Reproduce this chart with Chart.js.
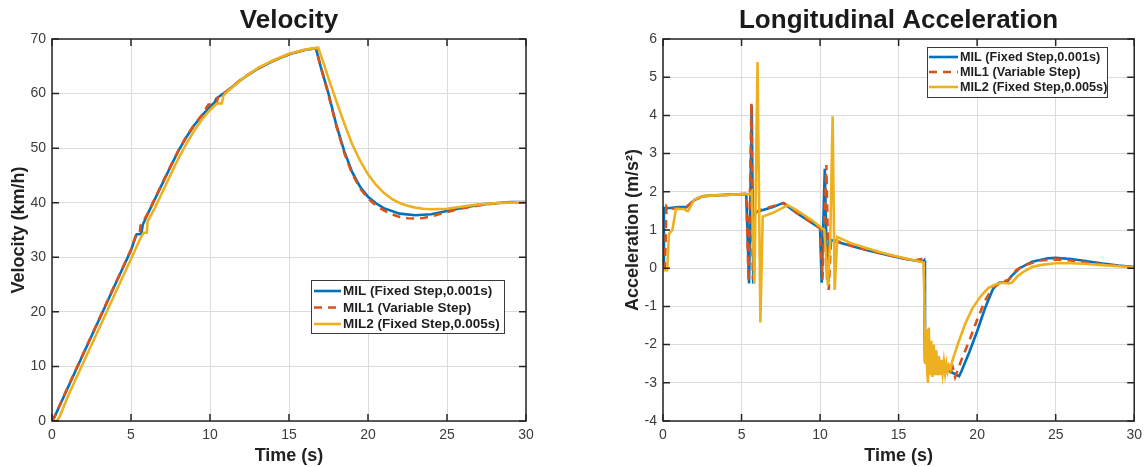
<!DOCTYPE html>
<html><head><meta charset="utf-8">
<script src="https://cdn.jsdelivr.net/npm/chart.js@4.4.1/dist/chart.umd.min.js"></script>
<style>
html,body{margin:0;padding:0;background:#fff;width:1148px;height:467px;overflow:hidden;}
#c1{position:absolute;left:0;top:0;}
#c2{position:absolute;left:574px;top:0;}
</style></head><body>
<canvas id="c1" width="574" height="467"></canvas>
<canvas id="c2" width="574" height="467"></canvas>
<script>
// ---------- series labels ----------
const seriesLabels = ['MIL (Fixed Step,0.001s)', 'MIL1 (Variable Step)', 'MIL2 (Fixed Step,0.005s)'];

// ---------- tick labels ----------
const timeTicks = [0, 5, 10, 15, 20, 25, 30];
const velTicks = [0, 10, 20, 30, 40, 50, 60, 70];
const accTicks = [-4, -3, -2, -1, 0, 1, 2, 3, 4, 5, 6];

// ---------- Velocity (km/h) ----------
const velTimeMIL = [0, 0.2, 1, 2, 3, 4, 5, 5.35, 5.65, 5.75, 6, 6.5, 7, 7.5, 8, 8.5, 9, 9.5, 10, 10.3, 10.4, 11, 12, 13, 14, 15, 16, 16.7, 17, 17.5, 18, 18.5, 19, 19.5, 20, 20.5, 21, 22, 23, 24, 25, 26, 27, 28, 29, 30];
const velMIL     = [0, 1.0, 6.1, 12.4, 18.7, 25, 31.3, 34.2, 34.3, 36, 37.6, 40.6, 43.6, 46.6, 49.5, 52, 54.2, 56, 57.6, 58.4, 59.1, 60.3, 62.6, 64.5, 66, 67.2, 68, 68.3, 65, 60, 54.2, 49.4, 45.6, 42.9, 41.1, 39.9, 39.0, 38.0, 37.7, 37.9, 38.5, 39.1, 39.6, 39.9, 40.1, 40.1];

const velTimeMIL1 = [0, 0.2, 1, 2, 3, 4, 5, 5.3, 5.55, 5.6, 6, 6.5, 7, 7.5, 8, 8.5, 9, 9.5, 9.9, 10.4, 10.5, 11, 12, 13, 14, 15, 16, 16.7, 17, 17.5, 18, 18.5, 19, 19.5, 20, 20.5, 21, 21.5, 22, 22.5, 23, 23.5, 24, 25, 26, 27, 28, 29, 30];
const velMIL1     = [0, 1.0, 6.2, 12.5, 18.8, 25.1, 31.4, 34.0, 34.2, 35.8, 37.7, 40.7, 43.7, 46.7, 49.6, 52.1, 54.3, 56.1, 58, 58, 59.3, 60.3, 62.7, 64.6, 66, 67.2, 68, 68.3, 65, 59.8, 54.0, 49.1, 45.3, 42.6, 40.8, 39.5, 38.6, 37.9, 37.4, 37.15, 37.1, 37.2, 37.5, 38.3, 39.0, 39.5, 39.85, 40.05, 40.1];

const velTimeMIL2 = [0, 0.3, 0.5, 1, 2, 3, 4, 5, 5.55, 5.8, 6.0, 6.05, 6.5, 7, 7.5, 8, 8.5, 9, 9.5, 10, 10.45, 10.75, 10.85, 11, 12, 13, 14, 15, 16, 16.85, 17.2, 17.5, 18, 18.5, 19, 19.5, 20, 20.5, 21, 21.5, 22, 22.5, 23, 23.5, 24, 25, 26, 27, 28, 29, 30];
const velMIL2     = [0, 0, 0.9, 4.5, 10.8, 17.1, 23.4, 29.7, 33.2, 34.5, 34.5, 36.6, 39, 42, 45.1, 48.1, 50.8, 53.2, 55.3, 57, 58.2, 58.2, 59.6, 60.1, 62.6, 64.6, 66.1, 67.3, 68.05, 68.4, 65.5, 62.8, 58.6, 54.5, 50.7, 47.7, 45.2, 43.3, 41.8, 40.7, 39.95, 39.45, 39.1, 38.9, 38.8, 38.9, 39.3, 39.7, 39.9, 40.05, 40.1];

// ---------- Longitudinal acceleration (m/s^2) ----------
const accTimeMIL = [0, 0.06, 0.3, 1.0, 1.5, 2.0, 2.5, 3.0, 4.0, 5.3, 5.48, 5.65, 5.75, 5.85, 6.15, 7.0, 7.65, 8.5, 9.5, 10.0, 10.1, 10.3, 10.45, 10.6, 11, 12, 13, 14, 15, 16, 16.55, 16.62, 16.68, 17, 17.5, 18, 18.5, 18.85, 19.0, 19.5, 20, 20.5, 21, 21.4, 21.9, 22.2, 22.7, 23.5, 24.5, 25, 26, 27, 28, 29, 30];
const accMIL     = [0.1, 1.58, 1.57, 1.6, 1.6, 1.78, 1.88, 1.9, 1.92, 1.94, -0.4, 4.25, -0.4, 1.45, 1.5, 1.6, 1.71, 1.45, 1.18, 1.05, -0.38, 2.6, -0.3, 0.75, 0.7, 0.58, 0.47, 0.37, 0.28, 0.2, 0.17, 0.2, -2.45, -2.55, -2.6, -2.65, -2.75, -2.83, -2.7, -2.2, -1.65, -1.05, -0.55, -0.38, -0.36, -0.2, 0.0, 0.17, 0.26, 0.27, 0.24, 0.18, 0.12, 0.07, 0.03];

const accTimeMIL1 = [0, 0.12, 0.22, 0.4, 1.0, 1.5, 2.0, 2.5, 3.0, 4.0, 5.3, 5.45, 5.63, 5.72, 5.85, 6.15, 7.0, 7.7, 8.5, 9.5, 10.0, 10.15, 10.4, 10.55, 10.7, 11, 12, 13, 14, 15, 16, 16.55, 16.62, 16.7, 17, 17.5, 18, 18.3, 18.45, 18.6, 19, 19.5, 20, 20.5, 21, 21.5, 22, 22.5, 23, 24, 25, 26, 27, 28, 29, 30];
const accMIL1     = [0, 0, 1.62, 1.55, 1.58, 1.6, 1.78, 1.88, 1.9, 1.92, 1.95, -0.35, 4.32, -0.3, 1.45, 1.52, 1.62, 1.7, 1.46, 1.18, 1.05, -0.3, 2.7, -0.57, 0.78, 0.72, 0.59, 0.48, 0.38, 0.28, 0.2, 0.25, 0.25, -2.45, -2.55, -2.6, -2.65, -2.72, -2.6, -2.85, -2.4, -1.9, -1.35, -0.85, -0.5, -0.38, -0.3, -0.05, 0.08, 0.2, 0.23, 0.2, 0.15, 0.1, 0.06, 0.03];

const accTimeMIL2 = [0, 0.1, 0.27, 0.38, 0.6, 0.82, 1.35, 1.5, 1.6, 2.0, 2.5, 3.0, 4.0, 5.55, 5.65, 5.82, 6.02, 6.2, 6.35, 7.0, 7.95, 8.5, 9.5, 10.27, 10.5, 10.65, 10.8, 10.93, 11.1, 12, 13, 14, 15, 16, 16.6, 16.7, 16.75, 16.82, 16.87, 16.92, 17.0, 17.08, 17.16, 17.24, 17.32, 17.4, 17.48, 17.56, 17.64, 17.72, 17.8, 17.88, 17.96, 18.04, 18.12, 18.2, 18.3, 18.4, 18.8, 19.25, 19.7, 20.2, 20.7, 21.2, 21.6, 22.0, 22.2, 22.6, 23, 23.5, 24, 25, 26, 27, 28, 29, 30];
const accMIL2     = [0, -0.05, -0.05, 0.9, 1.0, 1.55, 1.55, 1.5, 1.5, 1.8, 1.88, 1.9, 1.92, 1.94, 2.0, -0.4, 5.4, -1.42, 1.35, 1.45, 1.65, 1.52, 1.25, 1.0, -0.45, 0.8, 3.98, -0.57, 0.82, 0.65, 0.52, 0.4, 0.3, 0.21, 0.15, -2.5, -1.6, -2.7, -3.0, -1.55, -2.8, -1.9, -2.85, -2.0, -2.8, -2.15, -2.8, -2.3, -2.8, -2.4, -2.75, -2.45, -2.75, -2.5, -2.7, -2.55, -2.65, -2.45, -1.95, -1.45, -1.05, -0.75, -0.52, -0.42, -0.38, -0.4, -0.38, -0.2, -0.08, 0.03, 0.08, 0.13, 0.13, 0.11, 0.08, 0.05, 0.02];

// ---------- helpers ----------
const COLORS = ['#0072BD', '#D95319', '#EDB120'];
const DASHES = [[], [8, 6], []];
Chart.defaults.font.family = "'Liberation Sans', Arial, Helvetica, sans-serif";
Chart.defaults.color = '#3c3c3c';

function pts(t, v) { return t.map((x, i) => ({x: x, y: v[i]})); }

const matlabPlugin = {
  id: 'matlabFrame',
  afterDatasetsDraw(chart, args, opts) {
    const ctx = chart.ctx, a = chart.chartArea;
    const xs = chart.scales.x, ys = chart.scales.y;
    ctx.save();
    ctx.strokeStyle = '#262626';
    ctx.lineWidth = 1.5;
    ctx.strokeRect(a.left, a.top, a.right - a.left, a.bottom - a.top);
    const L = 7;
    ctx.beginPath();
    xs.ticks.forEach(t => {
      const p = xs.getPixelForValue(t.value);
      ctx.moveTo(p, a.bottom); ctx.lineTo(p, a.bottom - L);
      ctx.moveTo(p, a.top); ctx.lineTo(p, a.top + L);
    });
    ys.ticks.forEach(t => {
      const p = ys.getPixelForValue(t.value);
      ctx.moveTo(a.left, p); ctx.lineTo(a.left + L, p);
      ctx.moveTo(a.right, p); ctx.lineTo(a.right - L, p);
    });
    ctx.stroke();

    // legend
    const lg = opts.legend;
    ctx.fillStyle = '#ffffff';
    ctx.fillRect(lg.x, lg.y, lg.w, lg.h);
    ctx.strokeStyle = '#3a3a3a';
    ctx.lineWidth = 1;
    ctx.strokeRect(lg.x + 0.5, lg.y + 0.5, lg.w, lg.h);
    ctx.font = 'bold ' + lg.size + "px 'Liberation Sans', Arial, sans-serif";
    ctx.textBaseline = 'middle';
    ctx.textAlign = 'left';
    chart.data.datasets.forEach((ds, i) => {
      const yy = lg.rows[i];
      ctx.strokeStyle = ds.borderColor;
      ctx.lineWidth = ds.borderWidth;
      ctx.setLineDash(ds.borderDash || []);
      ctx.beginPath();
      ctx.moveTo(lg.l0, yy); ctx.lineTo(lg.l1, yy);
      ctx.stroke();
      ctx.setLineDash([]);
      ctx.fillStyle = '#1e1e1e';
      ctx.fillText(ds.label, lg.tx, yy + 0.5);
    });

    // title
    ctx.font = "bold 26px 'Liberation Sans', Arial, sans-serif";
    ctx.fillStyle = '#1a1a1a';
    ctx.textAlign = 'center';
    ctx.textBaseline = 'middle';
    ctx.fillText(opts.title, (a.left + a.right) / 2, 21);
    ctx.restore();
  }
};

function makeChart(id, cfg) {
  const datasets = cfg.series.map((s, i) => ({
    label: seriesLabels[i],
    data: pts(s[0], s[1]),
    borderColor: COLORS[i],
    backgroundColor: COLORS[i],
    borderWidth: 2.6,
    borderDash: DASHES[i],
    pointRadius: 0,
    tension: 0,
    fill: false,
    order: 2 - i
  }));
  return new Chart(document.getElementById(id), {
    type: 'line',
    data: {datasets: datasets},
    plugins: [matlabPlugin],
    options: {
      responsive: false,
      animation: false,
      devicePixelRatio: 1,
      layout: {padding: {left: 0, right: cfg.padRight, top: 39, bottom: 0}},
      plugins: {
        legend: {display: false},
        tooltip: {enabled: false},
        matlabFrame: {title: cfg.title, legend: cfg.legend}
      },
      scales: {
        x: {
          type: 'linear', min: 0, max: 30,
          afterBuildTicks: s => { s.ticks = timeTicks.map(v => ({value: v})); },
          afterFit: s => { s.height = 46; },
          grid: {color: '#dcdcdc', lineWidth: 1, drawTicks: false},
          border: {display: false},
          ticks: {font: {size: 14}, padding: 6, color: '#3c3c3c', maxRotation: 0},
          title: {display: true, text: 'Time (s)', font: {size: 18, weight: 'bold'}, color: '#222', padding: {top: 0, bottom: 0}}
        },
        y: {
          type: 'linear', min: cfg.yMin, max: cfg.yMax,
          afterBuildTicks: s => { s.ticks = cfg.yTicks.map(v => ({value: v})); },
          afterFit: s => { s.width = cfg.yWidth; },
          grid: {color: '#dcdcdc', lineWidth: 1, drawTicks: false},
          border: {display: false},
          ticks: {font: {size: 14}, padding: 6, color: '#3c3c3c'},
          title: {display: true, text: cfg.yTitle, font: {size: 18, weight: 'bold'}, color: '#222', padding: {top: cfg.yTitlePad, bottom: 0}}
        }
      }
    }
  });
}

makeChart('c1', {
  title: 'Velocity',
  series: [[velTimeMIL, velMIL], [velTimeMIL1, velMIL1], [velTimeMIL2, velMIL2]],
  yMin: 0, yMax: 70, yTicks: velTicks,
  yTitle: 'Velocity (km/h)', yWidth: 52, yTitlePad: 8, padRight: 48,
  legend: {x: 311, y: 280, w: 193, h: 53, rows: [291, 307.5, 324], l0: 314, l1: 341, tx: 343, size: 13.5}
});

makeChart('c2', {
  title: 'Longitudinal Acceleration',
  series: [[accTimeMIL, accMIL], [accTimeMIL1, accMIL1], [accTimeMIL2, accMIL2]],
  yMin: -4, yMax: 6, yTicks: accTicks,
  yTitle: 'Acceleration (m/s²)', yWidth: 89, yTitlePad: 48, padRight: 12,
  legend: {x: 353, y: 47, w: 180, h: 50, rows: [57, 72, 87], l0: 355, l1: 384, tx: 386, size: 12.7}
});
</script>
</body></html>
